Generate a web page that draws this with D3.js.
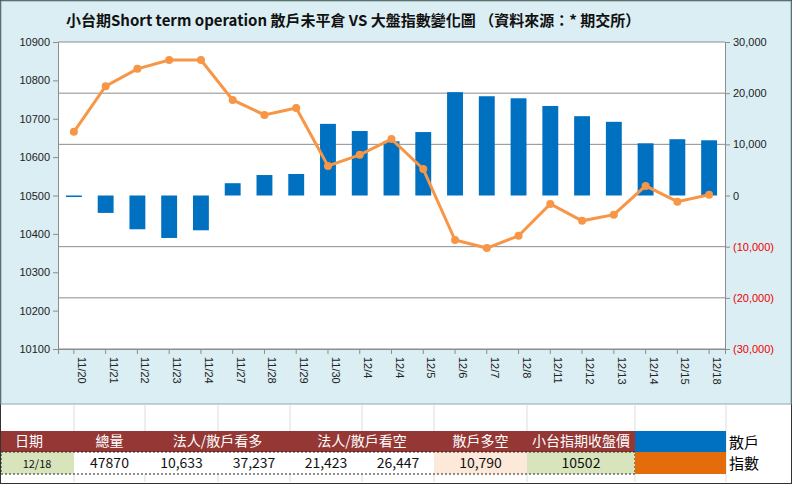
<!DOCTYPE html><html><head><meta charset="utf-8">
<script src="https://cdn.jsdelivr.net/npm/d3@7"></script>
<style>body{margin:0;background:#fff}svg{font-family:"Liberation Sans Narrow","Noto Sans CJK TC",sans-serif}</style></head><body>
<script>
const dates=["11/20","11/21","11/22","11/23","11/24","11/27","11/28","11/29","11/30","12/4","12/4","12/5","12/6","12/7","12/8","12/11","12/12","12/13","12/14","12/15","12/18"];
const retail=[-300,-3400,-6600,-8300,-6800,2400,4000,4200,14000,12600,10600,12400,20200,19400,19000,17500,15500,14400,10200,11000,10790];
const index=[10666,10785,10830,10853,10853,10749,10710,10728,10577,10606,10647,10569,10384,10363,10395,10478,10434,10450,10525,10484,10502];
const leftTicks=[10100,10200,10300,10400,10500,10600,10700,10800,10900];
const rightTicks=[-30000,-20000,-10000,0,10000,20000,30000];
const headers=["日期","總量","法人/散戶看多","法人/散戶看空","散戶多空","小台指期收盤價"];
const rowVals=["12/18","47870","10,633","37,237","21,423","26,447","10,790","10502"];

const W=792,H=484,svg=d3.select("body").append("svg").attr("width",W).attr("height",H);
svg.append("rect").attr("x",0.5).attr("y",0.5).attr("width",W-1).attr("height",H-1).attr("fill","#fff").attr("stroke","#333");
svg.append("rect").attr("x",1).attr("y",1).attr("width",W-2).attr("height",403).attr("fill","#dbeef4").attr("stroke","#8aa");
const L=58,R=725,T=42,B=349;
svg.append("rect").attr("x",L).attr("y",T).attr("width",R-L).attr("height",B-T).attr("fill","#fff");
svg.append("text").attr("x",66).attr("y",26).attr("font-size",15).attr("font-weight","bold").attr("fill","#111").text("小台期Short term operation 散戶未平倉 VS 大盤指數變化圖 （資料來源：* 期交所）");
const x=d3.scaleBand().domain(d3.range(dates.length)).range([L,R]);
const yl=d3.scaleLinear().domain([10100,10900]).range([B,T]);
const yr=d3.scaleLinear().domain([-30000,30000]).range([B,T]);
rightTicks.filter(t=>t!==0&&t!==30000&&t!==-30000).forEach(t=>svg.append("line").attr("x1",L).attr("x2",R).attr("y1",yr(t)).attr("y2",yr(t)).attr("stroke","#8c8c8c"));
svg.append("line").attr("x1",L).attr("x2",R).attr("y1",T).attr("y2",T).attr("stroke","#8c8c8c");
const la=svg.append("g").attr("transform",`translate(${L},0)`).call(d3.axisLeft(yl).tickValues(leftTicks).tickFormat(d3.format("d")).tickSize(5));
la.selectAll("text").attr("font-size",11).attr("fill","#222");
const ra=svg.append("g").attr("transform",`translate(${R},0)`).call(d3.axisRight(yr).tickValues(rightTicks).tickSize(5).tickFormat(d=>d<0?`(${d3.format(",")(-d)})`:d3.format(",")(d)));
ra.selectAll("text").attr("font-size",11).attr("fill",d=>d<0?"#e00":"#222");
[la,ra].forEach(a=>a.selectAll("path,line").attr("stroke","#8c8c8c"));
svg.selectAll(".bar").data(retail).enter().append("rect").attr("x",(d,i)=>x(i)+x.bandwidth()*0.25).attr("width",x.bandwidth()*0.5)
 .attr("y",d=>yr(Math.max(0,d))).attr("height",d=>Math.max(1,Math.abs(yr(d)-yr(0)))).attr("fill","#0070c0");
svg.append("line").attr("x1",L).attr("x2",R).attr("y1",B).attr("y2",B).attr("stroke","#8c8c8c");
const xa=svg.append("g").attr("transform",`translate(0,${B})`).call(d3.axisBottom(x).tickSize(5).tickFormat(i=>dates[i]));
xa.selectAll("path,line").attr("stroke","#8c8c8c");
xa.selectAll("text").attr("font-size",11).attr("fill","#222").attr("transform","rotate(90)").attr("text-anchor","start").attr("x",8).attr("y",-4).attr("dy",0).attr("dx",0);
const ln=d3.line().x((d,i)=>x(i)+x.bandwidth()/2).y(d=>yl(d));
svg.append("path").datum(index).attr("d",ln).attr("fill","none").attr("stroke","#f79646").attr("stroke-width",3);
svg.selectAll(".pt").data(index).enter().append("circle").attr("cx",(d,i)=>x(i)+x.bandwidth()/2).attr("cy",d=>yl(d)).attr("r",4).attr("fill","#f79646");
// table
const cols=[0,74,145,218,290,362,434,527,635,726,790];
const hy=431,hh=21,ry=452;
for(let i=1;i<cols.length-1;i++)svg.append("line").attr("x1",cols[i]).attr("x2",cols[i]).attr("y1",405).attr("y2",482).attr("stroke","#ddd");
svg.append("rect").attr("x",1).attr("y",hy).attr("width",634).attr("height",hh).attr("fill","#953735");
const hspans=[[0,1],[1,2],[2,4],[4,6],[6,7],[7,8]];
headers.forEach((h,k)=>{const [a,b]=hspans[k];svg.append("text").attr("x",(cols[a]+cols[b])/2+(k==0?-8:0)).attr("y",hy+15).attr("text-anchor","middle").attr("font-size",14).attr("fill","#fff").text(h);});
const fills=["#d8e4bc","#fff","#fff","#fff","#fff","#fff","#fde9d9","#d8e4bc"];
rowVals.forEach((v,k)=>{svg.append("rect").attr("x",cols[k]+(k==0?1:0)).attr("y",ry).attr("width",cols[k+1]-cols[k]).attr("height",22).attr("fill",fills[k]);
 svg.append("text").attr("x",(cols[k]+cols[k+1])/2).attr("y",ry+16).attr("text-anchor","middle").attr("font-size",k==0?11:14).attr("fill","#111").text(v);});
svg.append("rect").attr("x",1).attr("y",ry).attr("width",634).attr("height",22).attr("fill","none").attr("stroke","#222").attr("stroke-dasharray","2,2");
svg.append("rect").attr("x",635).attr("y",hy).attr("width",91).attr("height",hh).attr("fill","#0070c0");
svg.append("rect").attr("x",635).attr("y",ry).attr("width",91).attr("height",22).attr("fill","#e46c0a");
svg.append("text").attr("x",729).attr("y",hy+17).attr("font-size",15).text("散戶");
svg.append("text").attr("x",729).attr("y",ry+17).attr("font-size",15).text("指數");
</script></body></html>
